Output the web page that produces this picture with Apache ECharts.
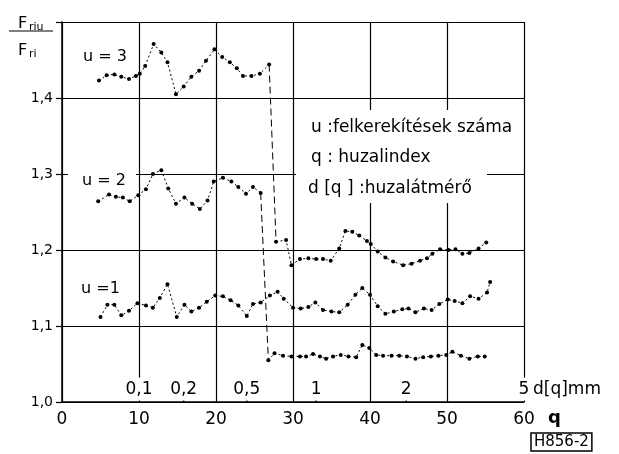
<!DOCTYPE html>
<html lang="hu">
<head>
	<meta charset="UTF-8">
	<title>Friu / Fri</title>
	<script src="https://cdn.jsdelivr.net/npm/echarts@6/dist/echarts.min.js"></script>
	<style>
		html, body{
			margin: 0;
			padding: 0;
			background: #fff;
		}
		#main{
			width: 619px;
			height: 454px;
		}
	</style>
</head>
<body>
	<div id="main"></div>
<script>
	// tengely feliratok
	var xTickLabels = ['0', '10', '20', '30', '40', '50', '60'];
	var yTickLabels = ['1,0', '1,1', '1,2', '1,3', '1,4', ''];
	// d[q] skala (huzalatmero)
	var dPos = [10, 15.8, 24, 33, 44.7, 60];
	var dLabels = ['0,1', '0,2', '0,5', '1', '2', '5'];
	var dTickMarks = [15.8, 24, 33, 44.7];

	// u = 3
	var u3Left = [[4.8,1.423],[5.8,1.430],[6.8,1.431],[7.7,1.428],[8.7,1.425],[9.6,1.429],[10.1,1.432],[10.8,1.442],[11.9,1.471],[12.9,1.460],[13.7,1.447],[14.8,1.405],[15.8,1.415],[16.8,1.428],[17.8,1.436],[18.7,1.449],[19.8,1.464],[20.8,1.454],[21.8,1.447],[22.7,1.439],[23.5,1.429],[24.6,1.429],[25.7,1.432],[26.9,1.444]];
	var u3Right = [[27.8,1.211],[29.1,1.213],[29.8,1.180],[30.9,1.188],[32.0,1.189],[33.0,1.188],[33.9,1.188],[34.9,1.186],[36.0,1.202],[36.8,1.225],[37.7,1.224],[38.6,1.219],[39.6,1.212],[40.1,1.208],[41.0,1.198],[42.0,1.190],[43.0,1.185],[44.3,1.180],[45.4,1.182],[46.5,1.186],[47.4,1.189],[48.1,1.195],[49.1,1.201],[50.2,1.200],[51.1,1.201],[52.0,1.195],[52.9,1.196],[54.1,1.202],[55.1,1.210]];
	// u = 2
	var u2Left = [[4.7,1.264],[6.1,1.273],[7.0,1.270],[7.9,1.269],[8.8,1.264],[9.9,1.272],[10.9,1.280],[11.8,1.300],[12.9,1.305],[13.8,1.281],[14.8,1.261],[15.9,1.269],[16.9,1.261],[17.9,1.254],[18.9,1.265],[19.7,1.290],[20.9,1.295],[22.0,1.290],[22.9,1.283],[23.9,1.274],[24.8,1.283],[25.8,1.275]];
	var u2Right = [[26.8,1.055],[27.6,1.064],[28.7,1.061],[29.8,1.060],[30.9,1.060],[31.7,1.060],[32.6,1.063],[33.5,1.060],[34.3,1.057],[35.2,1.060],[36.2,1.062],[37.2,1.060],[38.2,1.059],[39.0,1.075],[39.9,1.071],[40.8,1.062],[41.7,1.061],[42.8,1.061],[43.8,1.061],[44.8,1.060],[45.9,1.057],[46.9,1.059],[47.9,1.060],[48.9,1.061],[49.9,1.062],[50.7,1.066],[51.8,1.061],[52.9,1.057],[54.0,1.060],[54.9,1.060]];
	// u = 1
	var u1 = [[5.0,1.112],[5.9,1.128],[6.8,1.128],[7.7,1.114],[8.7,1.120],[9.8,1.130],[10.9,1.127],[11.8,1.124],[12.7,1.137],[13.7,1.155],[14.9,1.112],[15.9,1.128],[16.8,1.119],[17.8,1.124],[18.8,1.132],[19.9,1.140],[20.9,1.139],[21.9,1.134],[22.9,1.127],[24.0,1.113],[24.8,1.129],[25.8,1.131],[27.0,1.140],[28.0,1.145],[28.8,1.136],[30.0,1.124],[31.0,1.123],[32.0,1.125],[32.9,1.131],[33.9,1.121],[35.0,1.119],[36.0,1.118],[37.1,1.128],[38.1,1.141],[39.0,1.150],[40.0,1.141],[41.0,1.126],[42.0,1.116],[43.1,1.119],[44.2,1.122],[45.0,1.123],[45.9,1.118],[47.0,1.123],[48.0,1.121],[49.0,1.129],[50.1,1.135],[51.0,1.133],[52.0,1.130],[53.0,1.139],[54.1,1.136],[55.2,1.144],[55.6,1.158]];

	var font = 'DejaVu Sans';
	var labelY = 1.017;

	function dotted(data){
		return {
			type: 'line',
			data: data,
			symbol: 'circle',
			symbolSize: 4,
			itemStyle: {color: '#000'},
			lineStyle: {color: '#000', width: 1, type: [2, 2.5]},
			silent: true,
			animation: false
		};
	}
	function drop(a, b){
		return {
			type: 'line',
			data: [a[a.length - 1], b[0]],
			symbol: 'none',
			lineStyle: {color: '#000', width: 1, type: [7, 4]},
			silent: true,
			animation: false
		};
	}

	var myChart = echarts.init(document.getElementById('main'));
	myChart.setOption({
		animation: false,
		backgroundColor: '#fff',
		grid: {left: 62, right: 95, top: 22, bottom: 52},
		xAxis: {
			type: 'value', min: 0, max: 60, interval: 10,
			axisLine: {lineStyle: {color: '#000', width: 1.5}},
			axisTick: {show: false},
			axisLabel: {
				color: '#000', fontSize: 17, fontFamily: font, margin: 9,
				formatter: function(v, i){ return xTickLabels[i]; }
			},
			splitLine: {show: true, lineStyle: {color: '#000', width: 1.2}}
		},
		yAxis: {
			type: 'value', min: 1.0, max: 1.5, interval: 0.1,
			axisLine: {show: true, lineStyle: {color: '#000', width: 1.5}},
			axisTick: {show: true, length: 6, lineStyle: {color: '#000', width: 1.2}},
			axisLabel: {
				color: '#000', fontSize: 14, fontFamily: font, margin: 9,
				formatter: function(v, i){ return yTickLabels[i]; }
			},
			splitLine: {show: true, lineStyle: {color: '#000', width: 1.2}}
		},
		series: [
			dotted(u3Left), drop(u3Left, u3Right), dotted(u3Right),
			dotted(u2Left), drop(u2Left, u2Right), dotted(u2Right),
			dotted(u1),
			{
				// d[q] skala feliratai
				type: 'scatter',
				data: dPos.map(function(x){ return [x, labelY]; }),
				symbolSize: 0,
				itemStyle: {opacity: 1},
				silent: true,
				z: 5,
				label: {
					show: true, position: 'inside', color: '#000',
					fontSize: 17, fontFamily: font,
					backgroundColor: '#fff', padding: [4, 2, 2, 2],
					formatter: function(p){ return dLabels[p.dataIndex]; }
				}
			},
			{
				type: 'scatter',
				data: dTickMarks.map(function(x){ return [x, 1.0]; }),
				symbol: 'rect',
				symbolSize: [1.5, 6],
				symbolOffset: [0, -3],
				itemStyle: {color: '#000', opacity: 1},
				silent: true
			}
		],
		graphic: [
			// jelmagyarazat hattere
			{type: 'rect', z: 1, shape: {x: 296, y: 110, width: 225, height: 35}, style: {fill: '#fff'}},
			{type: 'rect', z: 1, shape: {x: 296, y: 145, width: 191, height: 58}, style: {fill: '#fff'}},
			{type: 'text', z: 3, x: 311, y: 128, style: {text: 'u :felkerekítések száma', font: '17px ' + font, fill: '#000', verticalAlign: 'middle'}},
			{type: 'text', z: 3, x: 311, y: 158, style: {text: 'q : huzalindex', font: '17px ' + font, fill: '#000', verticalAlign: 'middle'}},
			{type: 'text', z: 3, x: 308, y: 189, style: {text: 'd [q ] :huzalátmérő', font: '17px ' + font, fill: '#000', verticalAlign: 'middle'}},
			// gorbe feliratok
			{type: 'text', z: 3, x: 83, y: 57, style: {text: 'u = 3', font: '16px ' + font, fill: '#000', verticalAlign: 'middle'}},
			{type: 'text', z: 3, x: 68, y: 181, style: {text: 'u = 2', font: '16px ' + font, fill: '#000', verticalAlign: 'middle', backgroundColor: '#fff', padding: [3, 10, 3, 14]}},
			{type: 'text', z: 3, x: 81, y: 289, style: {text: 'u =1', font: '16px ' + font, fill: '#000', verticalAlign: 'middle'}},
			// y tengely neve
			{type: 'text', x: 18, y: 24, style: {text: 'F', font: '16px ' + font, fill: '#000', verticalAlign: 'middle'}},
			{type: 'text', x: 29, y: 27, style: {text: 'riu', font: '11px ' + font, fill: '#000', verticalAlign: 'middle'}},
			{type: 'line', shape: {x1: 9, y1: 31, x2: 53, y2: 31}, style: {stroke: '#000', lineWidth: 1.2}},
			{type: 'text', x: 18, y: 51, style: {text: 'F', font: '16px ' + font, fill: '#000', verticalAlign: 'middle'}},
			{type: 'text', x: 29, y: 54, style: {text: 'ri', font: '11px ' + font, fill: '#000', verticalAlign: 'middle'}},
			// x tengely nevei
			{type: 'text', x: 533, y: 390, style: {text: 'd[q]mm', font: '17px ' + font, fill: '#000', verticalAlign: 'middle'}},
			{type: 'text', x: 548, y: 418, style: {text: 'q', font: 'bold 18px ' + font, fill: '#000', verticalAlign: 'middle'}},
			{type: 'text', x: 531, y: 433, style: {text: 'H856-2', font: '15px ' + font, fill: '#000', borderColor: '#000', borderWidth: 1.5, padding: [2, 3, 1, 3]}}
		]
	});
</script>
</body>
</html>
